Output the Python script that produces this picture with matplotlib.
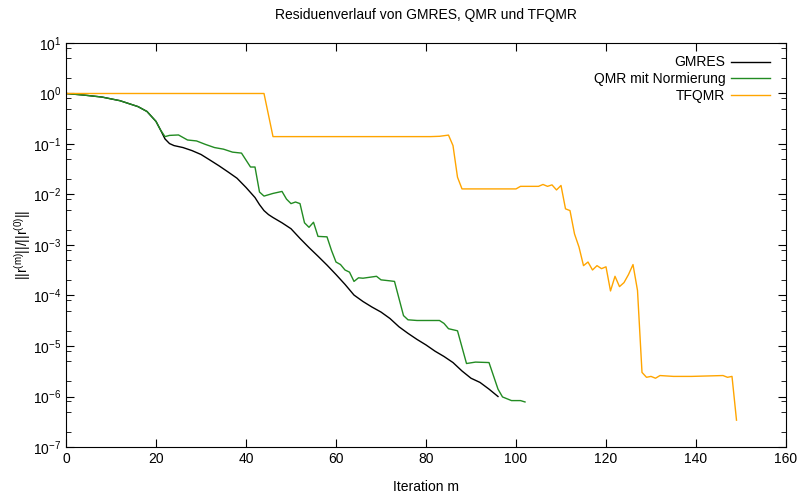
import numpy as np
import matplotlib.pyplot as plt
from matplotlib.ticker import LogLocator, LogFormatterMathtext, NullFormatter, MultipleLocator

plt.rcParams['font.family'] = ['Liberation Sans', 'DejaVu Sans']
plt.rcParams['mathtext.default'] = 'regular'

# GMRES
gmres_it = [0, 4, 8, 12, 16, 18, 20, 21, 22, 23, 24, 26, 28, 30, 32, 34, 36, 38, 40,
            42, 43, 44, 45, 46, 48, 50, 52, 54, 56, 58, 60, 62, 64, 66, 68, 70, 72,
            74, 76, 78, 80, 82, 84, 86, 88, 90, 92, 94, 96]
gmres_res = [1.0, 0.93, 0.85, 0.72, 0.55, 0.44, 0.28, 0.19, 0.126, 0.102, 0.093, 0.085,
             0.074, 0.062, 0.048, 0.037, 0.028, 0.021, 0.0138, 0.0087, 0.0063, 0.0048,
             0.0040, 0.0035, 0.00275, 0.0021, 0.00135, 8.9e-4, 6.0e-4, 4.0e-4, 2.6e-4,
             1.66e-4, 1.02e-4, 7.6e-5, 5.9e-5, 4.7e-5, 3.5e-5, 2.4e-5, 1.78e-5, 1.35e-5,
             1.05e-5, 7.9e-6, 6.2e-6, 4.7e-6, 3.2e-6, 2.3e-6, 1.9e-6, 1.4e-6, 1.0e-6]

# QMR mit Normierung
qmr_it = [0, 4, 8, 12, 16, 18, 20, 21, 22, 23, 25, 27, 29, 31, 33, 35, 37, 39, 41, 42,
          43, 44, 46, 48, 49, 50, 51, 52, 53, 54, 55, 56, 58, 59, 60, 61, 62, 63, 64,
          65, 66, 69, 70, 72, 73, 75, 76, 78, 83, 84, 85, 87, 89, 91, 94, 96, 97, 99,
          101, 102]
qmr_res = [1.0, 0.93, 0.85, 0.72, 0.55, 0.44, 0.28, 0.19, 0.14, 0.148, 0.151, 0.12,
           0.115, 0.098, 0.085, 0.079, 0.069, 0.066, 0.035, 0.035, 0.0112, 0.0093,
           0.0105, 0.0115, 0.0081, 0.0066, 0.0071, 0.0066, 0.00275, 0.00224, 0.00282,
           0.00148, 0.00145, 7.8e-4, 4.6e-4, 4.1e-4, 3.2e-4, 2.9e-4, 1.9e-4, 2.24e-4,
           2.2e-4, 2.4e-4, 2.04e-4, 1.95e-4, 1.9e-4, 4.0e-5, 3.3e-5, 3.2e-5, 3.2e-5,
           2.8e-5, 2.2e-5, 2.0e-5, 4.5e-6, 4.8e-6, 4.7e-6, 1.4e-6, 9.8e-7, 8.3e-7,
           8.3e-7, 7.8e-7]

# TFQMR
tfqmr_it = [0, 44, 46, 81, 83, 85, 86, 87, 88, 89, 100, 101, 102, 105, 106, 107, 108,
            109, 110, 111, 112, 113, 114, 115, 116, 117, 118, 119, 120, 121, 122, 123,
            124, 125, 126, 127, 128, 129, 130, 131, 132, 135, 139, 146, 147, 148, 149]
tfqmr_res = [1.0, 1.0, 0.14, 0.14, 0.142, 0.15, 0.093, 0.022, 0.0129, 0.0129, 0.0129,
             0.0145, 0.0145, 0.0145, 0.0158, 0.0145, 0.0155, 0.0123, 0.0151, 0.0052,
             0.0048, 0.00166, 9.1e-4, 3.9e-4, 4.6e-4, 3.2e-4, 3.9e-4, 3.4e-4, 3.7e-4,
             1.23e-4, 2.4e-4, 1.5e-4, 1.8e-4, 2.6e-4, 4.1e-4, 1.26e-4, 3.0e-6, 2.4e-6,
             2.5e-6, 2.3e-6, 2.6e-6, 2.5e-6, 2.5e-6, 2.6e-6, 2.4e-6, 2.5e-6, 3.4e-7]

fig = plt.figure(figsize=(8, 4.97), dpi=100)
ax = fig.add_axes([0.0825, 0.1006, 0.90, 0.8129])

ax.plot(gmres_it, gmres_res, color='black', lw=1, label='GMRES')
ax.plot(qmr_it, qmr_res, color='#228b22', lw=1, label='QMR mit Normierung')
ax.plot(tfqmr_it, tfqmr_res, color='orange', lw=1, label='TFQMR')

ax.set_yscale('log')
ax.set_xlim(0, 160)
ax.set_ylim(1e-7, 1e1)
ax.xaxis.set_major_locator(MultipleLocator(20))
ax.yaxis.set_major_locator(LogLocator(base=10, numticks=20))
ax.yaxis.set_major_formatter(LogFormatterMathtext())
ax.yaxis.set_minor_locator(LogLocator(base=10, subs=[2, 5, 8], numticks=20))
ax.yaxis.set_minor_formatter(NullFormatter())
ax.tick_params(which='both', direction='in', top=True, right=True, labelsize=10)
ax.tick_params(which='major', length=6)
ax.tick_params(which='minor', length=3.5)

ax.set_title('Residuenverlauf von GMRES, QMR und TFQMR', fontsize=10, pad=17)
ax.set_xlabel('Iteration m', fontsize=10, labelpad=10)
ax.set_ylabel(r'$||r^{(m)}||/||r^{(0)}||$', fontsize=10, labelpad=0)

ax.legend(loc='upper right', frameon=False, markerfirst=False, fontsize=10,
          handlelength=2.8, handletextpad=0.4, labelspacing=0.2,
          borderaxespad=0.5, bbox_to_anchor=(0.995, 1.0))

fig.savefig('out.png', dpi=100)
